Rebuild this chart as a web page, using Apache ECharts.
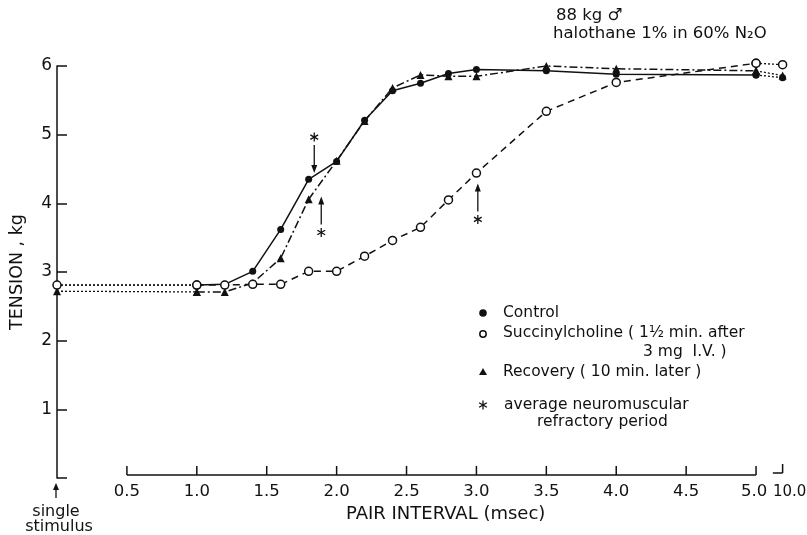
<!DOCTYPE html>
<html>
<head>
<meta charset="utf-8">
<script src="https://cdn.jsdelivr.net/npm/echarts@6.0.0/dist/echarts.min.js"></script>
<style>
  html, body { margin: 0; padding: 0; background: #fff; }
  #chart { width: 807px; height: 535px; }
</style>
</head>
<body>
<div id="chart"></div>
<script>
// pair interval (msec): 0 = single stimulus, 10.0 sits past the axis break
const pairInterval    = [0, 1.0, 1.2, 1.4, 1.6, 1.8, 2.0, 2.2, 2.4, 2.6, 2.8, 3.0, 3.5, 4.0, 5.0, 10.0];
const control         = [2.81, 2.81, 2.82, 3.01, 3.62, 4.35, 4.61, 5.21, 5.64, 5.75, 5.89, 5.95, 5.93, 5.88, 5.87, 5.83];
const succinylcholine = [2.81, 2.81, 2.81, 2.82, 2.82, 3.01, 3.01, 3.23, 3.46, 3.65, 4.05, 4.44, 5.34, 5.76, 6.04, 6.02];
const recovery        = [2.72, 2.71, 2.71, 2.84, 3.20, 4.06, 4.62, 5.20, 5.68, 5.87, 5.85, 5.85, 6.00, 5.96, 5.93, 5.86];

const xTicks = [0.5, 1.0, 1.5, 2.0, 2.5, 3.0, 3.5, 4.0, 4.5, 5.0];
const xTickLabels = ['0.5', '1.0', '1.5', '2.0', '2.5', '3.0', '3.5', '4.0', '4.5', '5.0'];
const breakLabel = '10.0';

// asterisks: average neuromuscular refractory period (arrow tip, 1 = arrow from below)
const refractoryInterval = [1.84, 1.89, 3.01];
const refractoryTension  = [4.44, 4.10, 4.29];
const refractoryDir      = [-1, 1, 1];

const INK = '#111';
const FONT = 'DejaVu Sans';
const BREAK_START = 5.12;   // short axis piece after the break
const BREAK_POS = 5.19;     // where 10.0 is drawn

function xPos(v) { return v > 5 ? BREAK_POS : v; }

function segment(vals, from, to) {
  const out = [];
  for (let i = from; i <= to; i++) out.push([xPos(pairInterval[i]), vals[i]]);
  return out;
}

function asterisk(cx, cy, r) {
  const els = [];
  [90, 30, 150].forEach(a => {
    const rad = a * Math.PI / 180;
    const dx = Math.cos(rad) * r, dy = Math.sin(rad) * r;
    els.push({ type: 'line', shape: { x1: cx - dx, y1: cy - dy, x2: cx + dx, y2: cy + dy },
      style: { stroke: INK, lineWidth: 1.3 } });
  });
  return els;
}

const groups = [
  { name: 'Control', vals: control, symbol: 'circle', size: 7, item: { color: INK }, dash: 'solid' },
  { name: 'Recovery', vals: recovery, symbol: 'triangle', size: 8, item: { color: INK }, dash: [8, 3, 2, 3] },
  { name: 'Succinylcholine', vals: succinylcholine, symbol: 'circle', size: 8,
    item: { color: '#fff', borderColor: INK, borderWidth: 1.5 }, dash: [7, 5] }
];

const last = pairInterval.length - 1;
const series = [];
groups.forEach(g => {
  const base = {
    type: 'line', symbol: g.symbol, symbolSize: g.size, itemStyle: g.item,
    silent: true, animation: false, clip: false, z: 3
  };
  series.push(Object.assign({}, base, {
    name: g.name, data: segment(g.vals, 1, last - 1),
    lineStyle: { color: INK, width: 1.5, type: g.dash }
  }));
  series.push(Object.assign({}, base, {
    data: segment(g.vals, 0, 1), lineStyle: { color: INK, width: 1.3, type: [2, 2] }
  }));
  series.push(Object.assign({}, base, {
    data: segment(g.vals, last - 1, last), lineStyle: { color: INK, width: 1.3, type: [2, 2] }
  }));
});

// x axis drawn by hand: it starts at 0.5 and is broken before 10.0
series.push({
  type: 'custom',
  silent: true,
  clip: false,
  animation: false,
  data: [[0, 0]],
  renderItem: function (params, api) {
    const zero = api.coord([0, 0]);
    const y = zero[1] - 3;
    const axisStyle = { stroke: INK, lineWidth: 1.5 };
    const labelStyle = { fill: INK, fontSize: 16.5, fontFamily: FONT, align: 'center', verticalAlign: 'middle' };
    const ch = [];
    const x0 = api.coord([xTicks[0], 0])[0];
    const x1 = api.coord([xTicks[xTicks.length - 1], 0])[0];
    ch.push({ type: 'line', shape: { x1: x0, y1: y, x2: x1, y2: y }, style: axisStyle });
    xTicks.forEach((t, i) => {
      const px = api.coord([t, 0])[0];
      ch.push({ type: 'line', shape: { x1: px, y1: y, x2: px, y2: y - 9 }, style: axisStyle });
      ch.push({ type: 'text', style: Object.assign({ text: xTickLabels[i], x: i === xTicks.length - 1 ? px - 2 : px, y: y + 17 }, labelStyle) });
    });
    const b0 = api.coord([BREAK_START, 0])[0];
    const b1 = api.coord([BREAK_POS, 0])[0];
    ch.push({ type: 'line', shape: { x1: b0, y1: y - 2, x2: b1, y2: y - 2 }, style: axisStyle });
    ch.push({ type: 'line', shape: { x1: b1, y1: y - 2, x2: b1, y2: y - 11 }, style: axisStyle });
    ch.push({ type: 'text', style: Object.assign({ text: breakLabel, x: b1 + 7, y: y + 17 }, labelStyle, { fontSize: 15 }) });
    // single stimulus marker at 0
    const sx = zero[0] - 1;
    const by = zero[1];
    ch.push({ type: 'line', shape: { x1: sx, y1: by + 20, x2: sx, y2: by + 8 }, style: { stroke: INK, lineWidth: 1.3 } });
    ch.push({ type: 'polygon', shape: { points: [[sx, by + 5], [sx - 3, by + 12], [sx + 3, by + 12]] }, style: { fill: INK } });
    ch.push({ type: 'text', style: Object.assign({ text: 'single', x: sx, y: by + 34 }, labelStyle, { fontSize: 16 }) });
    ch.push({ type: 'text', style: Object.assign({ text: 'stimulus', x: sx + 3, y: by + 49 }, labelStyle, { fontSize: 16 }) });
    ch.push({ type: 'text', style: Object.assign({ text: 'PAIR INTERVAL (msec)', x: api.coord([2.78, 0])[0], y: by + 36 }, labelStyle, { fontSize: 18 }) });
    return { type: 'group', children: ch };
  }
});

// refractory period arrows
series.push({
  type: 'custom',
  silent: true,
  clip: false,
  animation: false,
  z: 4,
  data: refractoryInterval.map((x, i) => [x, refractoryTension[i], refractoryDir[i]]),
  renderItem: function (params, api) {
    const p = api.coord([api.value(0), api.value(1)]);
    const d = api.value(2);
    const ch = [];
    ch.push({ type: 'line', shape: { x1: p[0], y1: p[1] + d * 28, x2: p[0], y2: p[1] + d * 4 }, style: { stroke: INK, lineWidth: 1.3 } });
    ch.push({ type: 'polygon', shape: { points: [[p[0], p[1]], [p[0] - 3, p[1] + d * 8], [p[0] + 3, p[1] + d * 8]] }, style: { fill: INK } });
    return { type: 'group', children: ch.concat(asterisk(p[0], p[1] + d * 36, 4.5)) };
  }
});

const legendText = { fill: INK, fontSize: 15.5, fontFamily: FONT, verticalAlign: 'middle' };
const graphic = [
  { type: 'text', left: 556, top: 7, style: Object.assign({ text: '88 kg \u2642' }, legendText, { fontSize: 16.5 }) },
  { type: 'text', left: 553, top: 25, style: Object.assign({ text: 'halothane 1% in 60% N\u2082O' }, legendText, { fontSize: 16.5 }) },
  { type: 'circle', shape: { cx: 483, cy: 313, r: 3.8 }, style: { fill: INK } },
  { type: 'text', x: 503, y: 313, style: Object.assign({ text: 'Control' }, legendText) },
  { type: 'circle', shape: { cx: 483, cy: 334, r: 3.2 }, style: { fill: '#fff', stroke: INK, lineWidth: 1.5 } },
  { type: 'text', x: 503, y: 333, style: Object.assign({ text: 'Succinylcholine ( 1\u00bd min. after' }, legendText) },
  { type: 'text', x: 643, y: 352, style: Object.assign({ text: '3 mg  I.V. )' }, legendText) },
  { type: 'polygon', shape: { points: [[483, 368], [479, 375], [487, 375]] }, style: { fill: INK } },
  { type: 'text', x: 503, y: 372, style: Object.assign({ text: 'Recovery ( 10 min. later )' }, legendText) },
  { type: 'group', children: asterisk(483, 405, 4.5) },
  { type: 'text', x: 504, y: 405, style: Object.assign({ text: 'average neuromuscular' }, legendText) },
  { type: 'text', x: 537, y: 422, style: Object.assign({ text: 'refractory period' }, legendText) }
];

const chart = echarts.init(document.getElementById('chart'), null, { renderer: 'canvas' });
chart.setOption({
  backgroundColor: '#fff',
  animation: false,
  textStyle: { fontFamily: FONT, color: INK },
  grid: { left: 56, right: 16, top: 66, bottom: 57 },
  xAxis: { type: 'value', min: 0, max: 5.25, show: false },
  yAxis: {
    type: 'value', min: 0, max: 6, interval: 1,
    name: 'TENSION , kg', nameLocation: 'middle', nameRotate: 90, nameGap: 31,
    nameTextStyle: { fontSize: 17.5, color: INK, fontFamily: FONT },
    axisLine: { show: true, lineStyle: { color: INK, width: 1.5 } },
    axisTick: { show: true, inside: true, length: 10, lineStyle: { color: INK, width: 1.5 } },
    axisLabel: { color: INK, fontSize: 17, fontFamily: FONT, margin: 5, formatter: v => v === 0 ? '' : String(v) },
    splitLine: { show: false }
  },
  graphic: graphic,
  series: series
});
</script>
</body>
</html>
